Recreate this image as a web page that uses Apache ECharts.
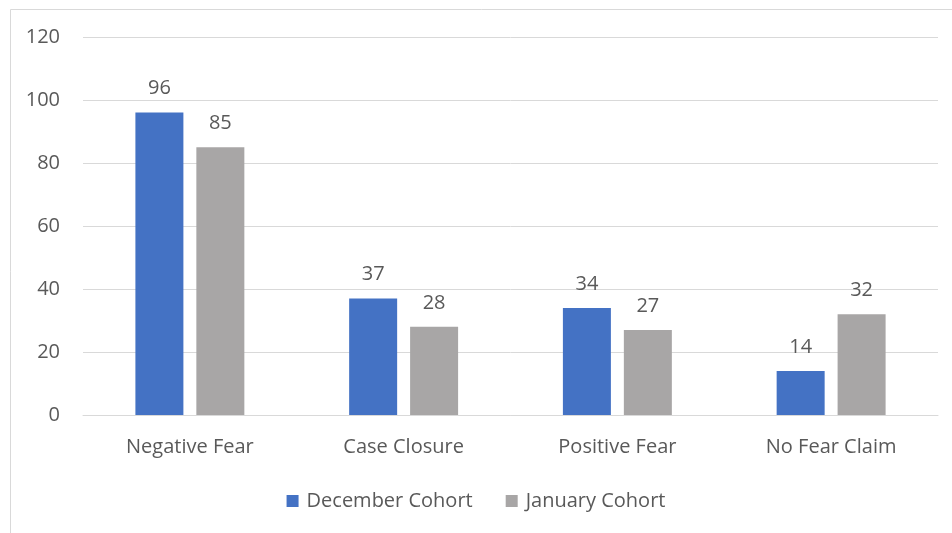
<!DOCTYPE html>
<html>
<head>
<meta charset="utf-8">
<script src="https://cdn.jsdelivr.net/npm/echarts@6/dist/echarts.min.js"></script>
<style>html,body{margin:0;padding:0;background:#fff;}#c{width:952px;height:533px;}</style>
</head>
<body>
<div id="c"></div>
<script>
const categories = ['Negative Fear', 'Case Closure', 'Positive Fear', 'No Fear Claim'];
const decemberCohort = [96, 37, 34, 14];
const januaryCohort = [85, 28, 27, 32];
const seriesNames = ['December Cohort', 'January Cohort'];

const chart = echarts.init(document.getElementById('c'));
const textColor = '#595959';
const fontFamily = '"Open Sans", "Noto Sans", sans-serif';
chart.setOption({
  animation: false,
  textStyle: { fontFamily: fontFamily },
  graphic: [{
    type: 'rect', left: 8, top: 7, silent: true,
    shape: { width: 960, height: 540 },
    style: { fill: 'none', stroke: '#d9d9d9', lineWidth: 1 }
  }],
  grid: { left: 83, right: 14, top: 37, bottom: 118 },
  legend: {
    bottom: 17, left: 'center',
    itemWidth: 12, itemHeight: 12, itemGap: 33,
    icon: 'rect',
    textStyle: { color: textColor, fontSize: 20, fontFamily: fontFamily, padding: [0, 0, 0, 3] },
    data: seriesNames
  },
  xAxis: {
    type: 'category', data: categories,
    axisLine: { lineStyle: { color: '#d9d9d9' } },
    axisTick: { show: false },
    axisLabel: { color: textColor, fontSize: 20, margin: 22 }
  },
  yAxis: {
    type: 'value', min: 0, max: 120, interval: 20,
    axisLine: { show: false }, axisTick: { show: false },
    splitLine: { lineStyle: { color: '#d9d9d9' } },
    axisLabel: { color: textColor, fontSize: 20, margin: 23 }
  },
  series: [
    {
      name: seriesNames[0], type: 'bar', data: decemberCohort,
      barWidth: 48, barGap: '27%',
      itemStyle: { color: '#4472C4' },
      label: { show: true, position: 'top', distance: 14, color: textColor, fontSize: 20 }
    },
    {
      name: seriesNames[1], type: 'bar', data: januaryCohort,
      barWidth: 48,
      itemStyle: { color: '#A8A6A6' },
      label: { show: true, position: 'top', distance: 14, color: textColor, fontSize: 20 }
    }
  ]
});
</script>
</body>
</html>
